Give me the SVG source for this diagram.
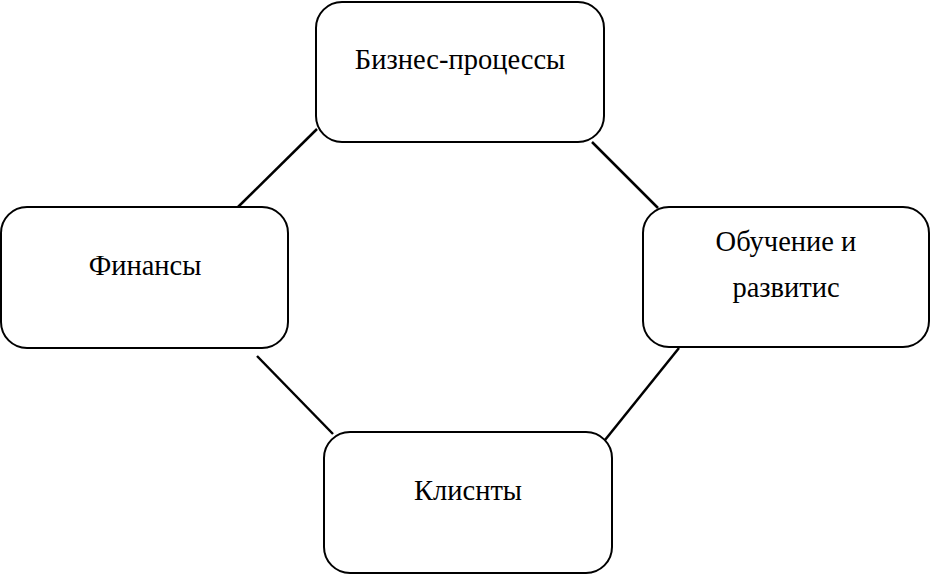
<svg xmlns="http://www.w3.org/2000/svg" width="932" height="574" viewBox="0 0 932 574">
<style>
.box{fill:#fff;stroke:#000;stroke-width:2}
.t{font-family:"Liberation Serif","Times New Roman",serif;font-size:28.5px;fill:#000;text-anchor:middle}
.c line{stroke:#000;stroke-width:2.5}
</style>
<rect width="932" height="574" fill="#fff"/>
<g class="c" id="connectors">
<line x1="238" y1="207" x2="317" y2="129"/>
<line x1="592" y1="142" x2="658" y2="208"/>
<line x1="257" y1="356" x2="333" y2="434"/>
<line x1="679" y1="348" x2="605" y2="440"/>
</g>
<g id="n1"><rect class="box" x="316" y="2" width="288" height="140" rx="26"/><text class="t" x="460" y="69">Бизнес-процессы</text></g>
<g id="n2"><rect class="box" x="1" y="207" width="287" height="141" rx="26"/><text class="t" x="145" y="275">Финансы</text></g>
<g id="n3"><rect class="box" x="643" y="207" width="286" height="140" rx="26"/><text class="t" x="786" y="251">Обучение и</text><text class="t" x="786" y="297">развитис</text></g>
<g id="n4"><rect class="box" x="324" y="432" width="288" height="141" rx="26"/><text class="t" x="468" y="500">Клиснты</text></g>
</svg>
